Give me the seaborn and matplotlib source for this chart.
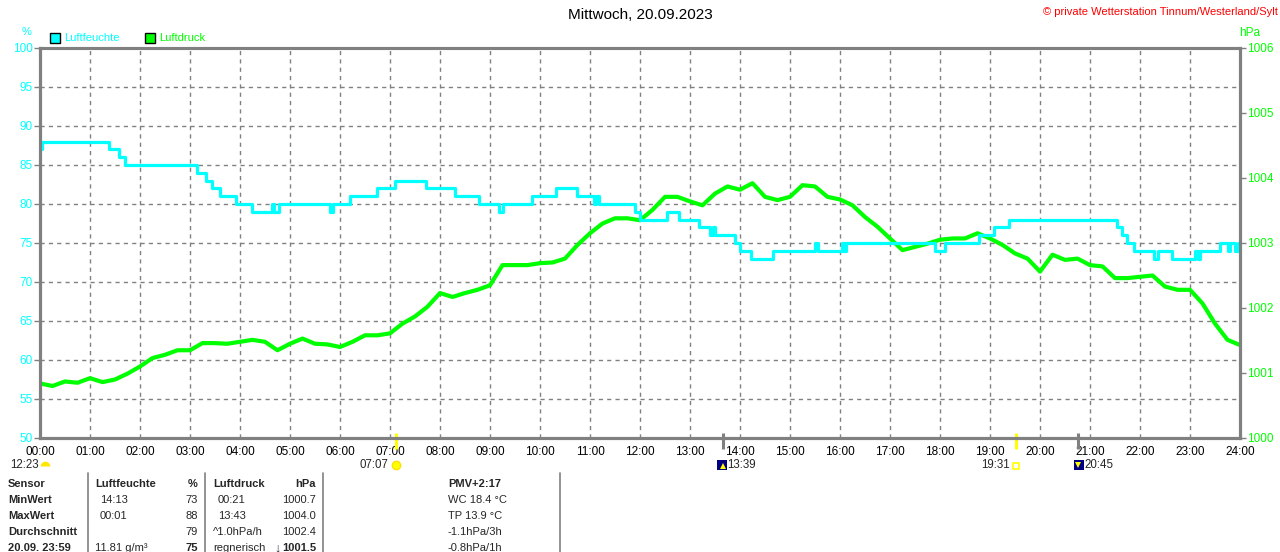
import pandas as pd
import numpy as np
import matplotlib
matplotlib.use("Agg")
import matplotlib.pyplot as plt
import seaborn as sns
from matplotlib.lines import Line2D
from matplotlib.patches import Rectangle

# ---- data ----
title = "Mittwoch, 20.09.2023"
copyright_txt = "\u00a9 private Wetterstation Tinnum/Westerland/Sylt"

# humidity (%) as step changes: hour of day, value
hum_hours = [0.0, 0.03, 1.37, 1.57, 1.70, 3.13, 3.32, 3.43, 3.60, 3.92, 4.23, 4.63, 4.68,
             4.77, 5.80, 5.86, 6.20, 6.73, 7.10, 7.71, 8.30, 8.79, 9.17, 9.25, 9.83, 10.32,
             10.73, 11.07, 11.12, 11.17, 11.90, 12.00, 12.53, 12.77, 13.17, 13.40, 13.45,
             13.50, 13.90, 14.00, 14.21, 14.65, 15.50, 15.56, 16.03, 16.08, 16.12, 17.90,
             18.10, 18.77, 19.07, 19.38, 21.53, 21.63, 21.73, 21.87, 22.28, 22.35, 22.63,
             23.10, 23.15, 23.20, 23.60, 23.75, 23.80, 23.90, 23.95, 24.0]
hum_values = [87, 88, 87, 86, 85, 84, 83, 82, 81, 80, 79, 80, 79,
              80, 79, 80, 81, 82, 83, 82, 81, 80, 79, 80, 81, 82,
              81, 80, 81, 80, 79, 78, 79, 78, 77, 76, 77,
              76, 75, 74, 73, 74, 75, 74, 75, 74, 75, 74,
              75, 76, 77, 78, 77, 76, 75, 74, 73, 74, 73,
              74, 73, 74, 75, 74, 75, 74, 75, 75]

# air pressure (hPa) every 15 minutes, 00:00 .. 24:00
press_hours = [i * 0.25 for i in range(97)]
press_values = [1000.84, 1000.80, 1000.87, 1000.85, 1000.92, 1000.86, 1000.90, 1000.99,
                1001.10, 1001.23, 1001.28, 1001.35, 1001.35, 1001.46, 1001.46, 1001.45,
                1001.48, 1001.51, 1001.48, 1001.35, 1001.45, 1001.53, 1001.45, 1001.44,
                1001.40, 1001.48, 1001.58, 1001.58, 1001.61, 1001.76, 1001.87, 1002.02,
                1002.23, 1002.17, 1002.23, 1002.28, 1002.35, 1002.66, 1002.66, 1002.66,
                1002.69, 1002.70, 1002.76, 1002.97, 1003.15, 1003.30, 1003.38, 1003.38,
                1003.35, 1003.51, 1003.71, 1003.71, 1003.64, 1003.58, 1003.76, 1003.87,
                1003.82, 1003.92, 1003.71, 1003.66, 1003.71, 1003.89, 1003.87, 1003.71,
                1003.67, 1003.58, 1003.40, 1003.25, 1003.07, 1002.89, 1002.94, 1002.99,
                1003.05, 1003.07, 1003.07, 1003.15, 1003.07, 1002.97, 1002.84, 1002.76,
                1002.56, 1002.82, 1002.74, 1002.76, 1002.66, 1002.64, 1002.46, 1002.46,
                1002.48, 1002.50, 1002.33, 1002.28, 1002.28, 1002.07, 1001.76, 1001.51,
                1001.43]

hour_labels = ["%02d:00" % h for h in range(25)]
hum_ticks = [50, 55, 60, 65, 70, 75, 80, 85, 90, 95, 100]
press_ticks = [1000, 1001, 1002, 1003, 1004, 1005, 1006]

# sun / moon events (hour, label)
moonset = (12 + 23 / 60, "12:23")
sunrise = (7 + 7 / 60, "07:07")
moonrise = (13 + 39 / 60, "13:39")
sunset = (19 + 31 / 60, "19:31")
moon2 = (20 + 45 / 60, "20:45")

table_cols = ["Sensor", "Luftfeuchte", "%", "Luftdruck", "hPa"]
table_rows = [
    ["MinWert", "14:13", "73", "00:21", "1000.7"],
    ["MaxWert", "00:01", "88", "13:43", "1004.0"],
    ["Durchschnitt", "", "79", "^1.0hPa/h", "1002.4"],
    ["20.09. 23:59", "11.81 g/m\u00b3", "75", "regnerisch", "1001.5"],
]
extra_lines = ["PMV+2:17", "WC 18.4 \u00b0C", "TP 13.9 \u00b0C", "-1.1hPa/3h", "-0.8hPa/1h"]

CYAN = "#00FFFF"
GREEN = "#00FF00"
GREY = "#808080"
W, H = 1280, 552

sns.set_style("white")
plt.rcParams["font.family"] = ["Liberation Sans", "DejaVu Sans"]

fig = plt.figure(figsize=(W / 100, H / 100), dpi=100)


def fx(x):
    return x / W


def fy(y):
    return 1 - y / H


ax = fig.add_axes([fx(40), fy(438), 1200 / W, 390 / H])
ax2 = ax.twinx()
ax3 = ax.twinx()

hum = pd.DataFrame({"hour": hum_hours, "value": hum_values})
press = pd.DataFrame({"hour": press_hours, "value": press_values})

sns.lineplot(data=press, x="hour", y="value", ax=ax2, color=GREEN, lw=3.0)
sns.lineplot(data=hum, x="hour", y="value", ax=ax3, color=CYAN, lw=2.3,
             drawstyle="steps-post")

for a in (ax, ax2, ax3):
    a.set_xlim(0, 24)
    a.set_xlabel("")
    a.set_ylabel("")
    for s in a.spines.values():
        s.set_color(GREY)
        s.set_linewidth(2.2)
ax.spines["top"].set_linewidth(1.8)

ax.set_ylim(50, 100)
ax3.set_ylim(50, 100)
ax2.set_ylim(1000, 1006)

ax.set_xticks(range(25))
ax.set_xticklabels(hour_labels)
ax.set_yticks(hum_ticks)
ax.set_yticklabels([str(v) for v in hum_ticks])
ax2.set_yticks(press_ticks)
ax2.set_yticklabels([str(v) for v in press_ticks])
ax3.set_yticks([])

ax.grid(True, color=GREY, linestyle=(0, (3, 3)), lw=1)
ax.tick_params(axis="x", colors=GREY, labelcolor="black", length=4, width=1,
               labelsize=8.5, pad=2)
ax.tick_params(axis="y", colors=GREY, labelcolor=CYAN, length=4, width=1,
               labelsize=8.5, pad=1)
ax2.tick_params(axis="y", colors=GREY, labelcolor=GREEN, length=4, width=1,
                labelsize=8.5, pad=1)
ax2.grid(False)
ax3.grid(False)

# headers
fig.text(0.5, fy(15), title, ha="center", va="center", fontsize=11, color="black")
fig.text(fx(1278), fy(12), copyright_txt, ha="right", va="center", fontsize=8, color="red")
fig.text(fx(27), fy(32), "%", ha="center", va="center", fontsize=8, color=CYAN)
fig.text(fx(1250), fy(33), "hPa", ha="center", va="center", fontsize=8.5, color=GREEN)

fig.add_artist(Rectangle((fx(50), fy(43)), 10 / W, 10 / H, transform=fig.transFigure,
                         facecolor=CYAN, edgecolor="black", lw=1))
fig.text(fx(64), fy(38), "Luftfeuchte", ha="left", va="center", fontsize=8, color=CYAN)
fig.add_artist(Rectangle((fx(145), fy(43)), 10 / W, 10 / H, transform=fig.transFigure,
                         facecolor=GREEN, edgecolor="black", lw=1))
fig.text(fx(159), fy(38), "Luftdruck", ha="left", va="center", fontsize=8, color=GREEN)

# sun / moon event marks under the x axis
xt = ax.get_xaxis_transform()
for hour, col in [(sunrise[0], "#FFFF00"), (sunset[0], "#FFFF00"),
                  (moonrise[0], GREY), (moon2[0], GREY)]:
    ax.plot([hour, hour], [0.013, -0.028], transform=xt, color=col, lw=2.2,
            clip_on=False, solid_capstyle="butt")


def px_x(hour):
    return 40 + 50 * hour


def icon(x, y, **kw):
    fig.add_artist(Line2D([fx(x)], [fy(y)], transform=fig.transFigure, **kw))


ylab = 465
fs_ev = 8.3
fig.text(fx(10), fy(ylab), moonset[1], ha="left", va="center", fontsize=fs_ev)
icon(45, ylab + 1, marker="o", fillstyle="top", markersize=7, color="#FFE800", markeredgewidth=0)
fig.text(fx(px_x(sunrise[0]) - 7), fy(ylab), sunrise[1], ha="right", va="center", fontsize=fs_ev)
icon(px_x(sunrise[0]), ylab, marker="o", markersize=6, color="#FFFF00",
     markeredgecolor="#FFE000", markeredgewidth=1)
icon(px_x(moonrise[0]) - 1, ylab, marker="s", markersize=7, color="#000080", markeredgewidth=0)
icon(px_x(moonrise[0]), ylab + 1, marker="^", markersize=4, color="#FFFF00", markeredgewidth=0)
fig.text(fx(px_x(moonrise[0]) + 5), fy(ylab), moonrise[1], ha="left", va="center", fontsize=fs_ev)
fig.text(fx(px_x(sunset[0]) - 6), fy(ylab), sunset[1], ha="right", va="center", fontsize=fs_ev)
icon(px_x(sunset[0]), ylab + 1, marker="s", markersize=5, markerfacecolor="none",
     markeredgecolor="#FFFF00", markeredgewidth=1.2)
icon(px_x(moon2[0]) + 1, ylab, marker="s", markersize=7, color="#000080", markeredgewidth=0)
icon(px_x(moon2[0]), ylab, marker="v", markersize=4, color="#FFFF00", markeredgewidth=0)
fig.text(fx(px_x(moon2[0]) + 7), fy(ylab), moon2[1], ha="left", va="center", fontsize=fs_ev)

# bottom table
for xs in [88, 205, 323, 560]:
    fig.add_artist(Line2D([fx(xs), fx(xs)], [fy(473), fy(552)], transform=fig.transFigure,
                          color=GREY, lw=1.2))

row_y = [484, 500, 516, 532, 548]
col_x = [(8, "left"), (95, "left"), (198, "right"), (213, "left"), (316, "right")]
for (x, ha), txt in zip(col_x, table_cols):
    fig.text(fx(x), fy(row_y[0]), txt, ha=ha, va="center", fontsize=8, fontweight="bold")
for r, row in enumerate(table_rows):
    y = row_y[r + 1]
    last = r == len(table_rows) - 1
    for c, ((x, ha), txt) in enumerate(zip(col_x, row)):
        if c in (1, 3) and txt[:1].isdigit() and ":" in txt:
            x += 5
        bold = c == 0 or (last and c in (2, 4))
        fig.text(fx(x), fy(y), txt, ha=ha, va="center", fontsize=8,
                 fontweight="bold" if bold else "normal")
fig.text(fx(277), fy(row_y[4]), "\u2193", ha="center", va="center", fontsize=9,
         color="#303040", fontweight="bold")
for i, txt in enumerate(extra_lines):
    fig.text(fx(448), fy(row_y[i]), txt, ha="left", va="center", fontsize=8,
             fontweight="bold" if i == 0 else "normal")

fig.savefig("out.png", dpi=100, facecolor="white")
